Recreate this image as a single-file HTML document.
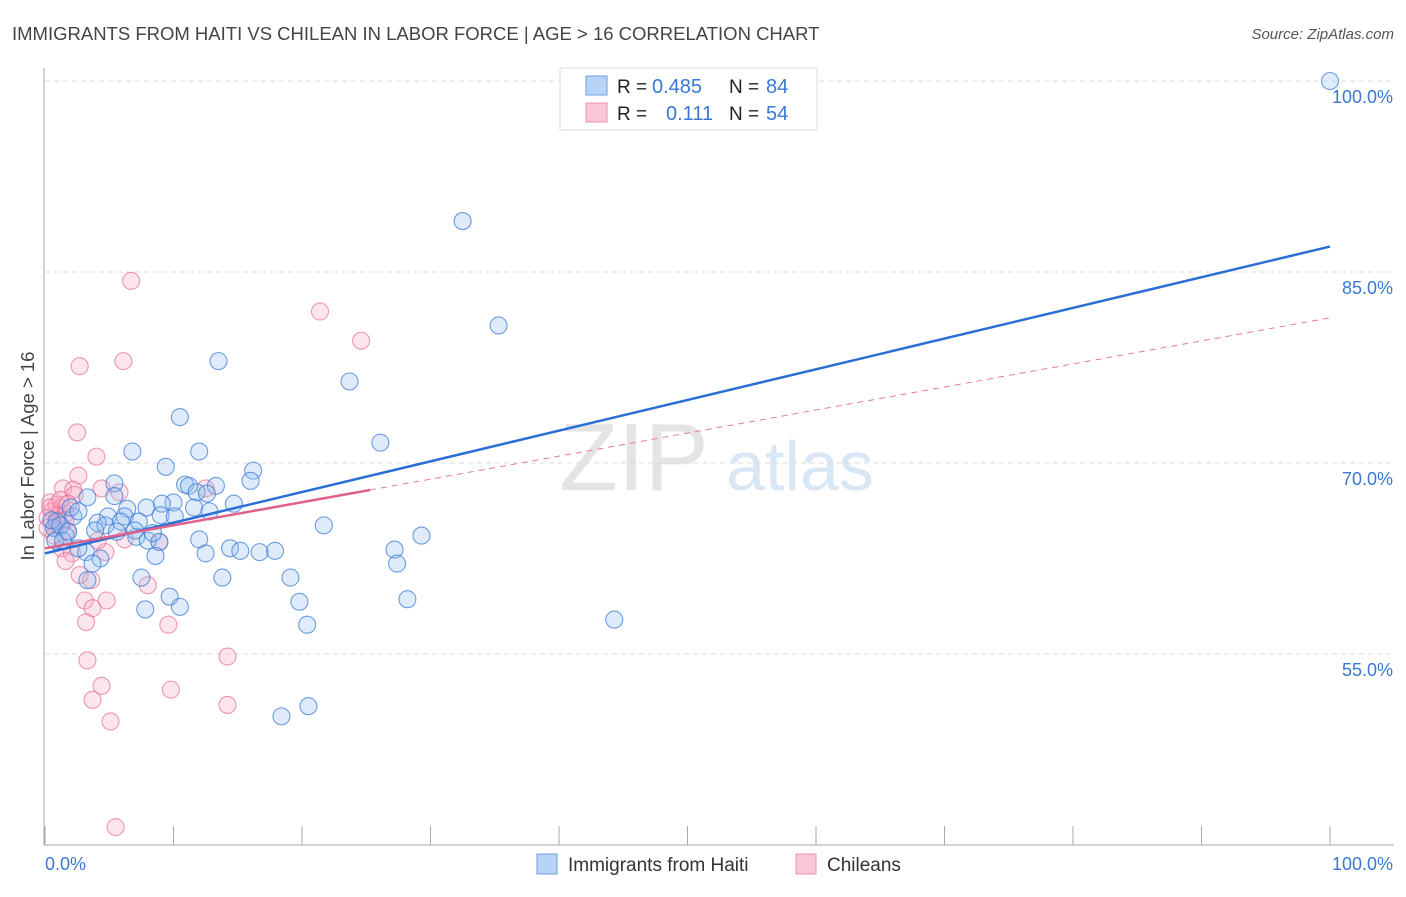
<!DOCTYPE html>
<html><head><meta charset="utf-8"><style>
body{margin:0;background:#fff;font-family:"Liberation Sans",sans-serif;}
svg text{font-family:"Liberation Sans",sans-serif;}
</style></head><body>
<svg id="chart" width="1406" height="892" viewBox="0 0 1406 892" xmlns="http://www.w3.org/2000/svg">
<text x="12" y="40" font-size="18.5" fill="#444">IMMIGRANTS FROM HAITI VS CHILEAN IN LABOR FORCE | AGE &gt; 16 CORRELATION CHART</text>
<text x="1394" y="39" font-size="15" fill="#555" text-anchor="end" font-style="italic">Source: ZipAtlas.com</text>
<text transform="translate(34,456) rotate(-90)" font-size="18.5" fill="#444" text-anchor="middle">In Labor Force | Age &gt; 16</text>
<g>
<text x="634" y="490" font-size="96" fill="#e4e4e4" text-anchor="middle" font-family="Liberation Serif">ZIP</text>
<text x="800" y="490" font-size="70" fill="#d8e6f5" text-anchor="middle">atlas</text>
</g>
<g id="grid"></g>
<g id="axes"></g>
<g id="points"></g>
<g id="trends"></g>
<g>
<rect x="560" y="68" width="257" height="62" fill="#fff" stroke="#ddd"/>
<rect x="586" y="76" width="21" height="19" fill="#b8d3f5" stroke="#6a9fe0"/>
<text x="617" y="93" font-size="19" fill="#222">R = </text><text x="652" y="93" font-size="20" fill="#3a78d4">0.485</text>
<text x="729" y="93" font-size="19" fill="#222">N = </text><text x="766" y="93" font-size="20" fill="#3a78d4">84</text>
<rect x="586" y="103" width="21" height="19" fill="#f9c6d5" stroke="#ee8fab"/>
<text x="617" y="120" font-size="19" fill="#222">R = </text><text x="666" y="120" font-size="20" fill="#3a78d4">0.111</text>
<text x="729" y="120" font-size="19" fill="#222">N = </text><text x="766" y="120" font-size="20" fill="#3a78d4">54</text>
</g>
<g>
<rect x="537" y="854" width="20" height="20" fill="#b8d3f5" stroke="#6a9fe0"/>
<text x="568" y="871" font-size="19" fill="#333">Immigrants from Haiti</text>
<rect x="796" y="854" width="20" height="20" fill="#f9c6d5" stroke="#ee8fab"/>
<text x="827" y="871" font-size="19" fill="#333">Chileans</text>
</g>
</svg>
<script>
const blueX=[100,32.5,35.3,13.5,23.7,10.5,26.1,6.8,12.0,9.4,16.2,16.0,5.4,13.3,10.9,11.2,11.8,12.6,3.3,5.4,7.9,10.0,9.1,11.6,14.7,12.8,6.4,4.9,2.2,0.9,4.1,6.2,5.9,7.3,9.0,10.1,21.7,4.7,0.7,3.9,5.6,1.6,7.1,0.8,8.0,12.0,8.9,14.4,15.2,16.7,17.9,12.5,8.6,27.2,29.3,27.4,4.3,3.2,3.7,7.5,13.8,19.1,3.3,9.7,19.8,28.2,10.5,7.8,20.4,44.3,18.4,20.5,1.4,2.6,0.5,1.2,2.0,2.6,7.0,8.4,1.8];
const blueY=[100,89.0,80.8,78.0,76.4,73.6,71.6,70.9,70.9,69.7,69.4,68.6,68.4,68.2,68.3,68.2,67.7,67.6,67.3,67.4,66.5,66.9,66.8,66.5,66.8,66.2,66.4,65.8,65.8,65.4,65.3,65.8,65.4,65.4,65.9,65.8,65.1,65.1,64.9,64.7,64.6,64.3,64.2,63.9,63.9,64.0,63.8,63.3,63.1,63.0,63.1,62.9,62.7,63.2,64.3,62.1,62.5,63.0,62.1,61.0,61.0,61.0,60.8,59.5,59.1,59.3,58.7,58.5,57.3,57.7,50.1,50.9,63.9,63.3,65.5,65.1,66.5,66.2,64.7,64.5,64.6];
const pinkX=[6.7,21.4,24.6,2.7,6.1,2.5,4.0,2.6,1.4,2.2,4.4,5.8,12.5,0.4,0.9,1.3,0.5,1.0,0.2,1.6,2.3,0.8,1.7,1.3,2.1,4.7,1.6,2.7,3.6,4.1,6.2,8.9,8.0,4.8,3.1,3.7,3.2,9.6,3.3,14.2,4.4,9.8,3.7,14.2,5.1,5.5,0.7,1.0,1.6,0.4,1.2,0.2,1.8];
const pinkY=[84.3,81.9,79.6,77.6,78.0,72.4,70.5,69.0,68.0,67.9,68.0,67.7,68.0,66.9,66.7,66.5,66.2,65.9,65.7,66.0,67.5,65.1,64.7,63.3,62.9,63.0,62.3,61.2,60.8,63.9,64.0,63.8,60.4,59.2,59.2,58.6,57.5,57.3,54.5,54.8,52.5,52.2,51.4,51.0,49.7,41.4,64.3,65.5,65.5,66.5,67.1,64.9,66.8];
const blueTrend=[62.9,87.0];
const pinkTrend=[63.3,81.4];
const pinkSolidEnd=25.3;
const yTicks=[100,85,70,55];
const yTickLabels=["100.0%","85.0%","70.0%","55.0%"];
const xTicks=[0,10,20,30,40,50,60,70,80,90,100];

const NS="http://www.w3.org/2000/svg";
const sx=v=>45+v*12.85;
const sy=v=>81+(100-v)*12.733;
function mk(tag,attrs,parent){const e=document.createElementNS(NS,tag);for(const k in attrs)e.setAttribute(k,attrs[k]);parent.appendChild(e);return e;}
const grid=document.getElementById('grid'),axes=document.getElementById('axes'),pts=document.getElementById('points'),tr=document.getElementById('trends');
yTicks.forEach((t,i)=>{
 const l=mk('line',{x1:45,x2:1394,y1:sy(t),y2:sy(t),stroke:'#ddd','stroke-dasharray':'5,4'},grid);
 
 
 const tx=mk('text',{x:1393,y:sy(t)+22,'font-size':18,fill:'#3a78d4','text-anchor':'end'},axes);
 tx.textContent=yTickLabels[i];
 
 
});
const ya=mk('line',{x1:44,x2:44,y1:68,y2:845,stroke:'#aaa'},axes);


const xa=mk('line',{x1:44,x2:1394,y1:845,y2:845,stroke:'#aaa'},axes);


xTicks.forEach(t=>{
 const l=mk('line',{x1:sx(t),x2:sx(t),y1:826,y2:845,stroke:'#aaa'},axes);
 
 
});
const xl0=mk('text',{x:45,y:870,'font-size':18,fill:'#3a78d4'},axes);xl0.textContent='0.0%';


const xl1=mk('text',{x:1393,y:870,'font-size':18,fill:'#3a78d4','text-anchor':'end'},axes);xl1.textContent='100.0%';


pinkX.forEach((x,i)=>{
 const c=mk('circle',{cx:sx(x),cy:sy(pinkY[i]),r:8.5,fill:'rgba(247,170,195,0.3)',stroke:'rgba(232,110,150,0.7)','stroke-width':1.1},pts);
 
 
});
blueX.forEach((x,i)=>{
 const c=mk('circle',{cx:sx(x),cy:sy(blueY[i]),r:8.5,fill:'rgba(150,190,240,0.3)',stroke:'rgba(60,125,215,0.75)','stroke-width':1.1},pts);
 
 
});
const pyAt=x=>pinkTrend[0]+(pinkTrend[1]-pinkTrend[0])*x/100;
const pd=mk('line',{x1:sx(pinkSolidEnd),y1:sy(pyAt(pinkSolidEnd)),x2:sx(100),y2:sy(pinkTrend[1]),stroke:'#e87a9b','stroke-width':1,'stroke-dasharray':'6,5'},tr);


const bl=mk('line',{x1:sx(0),y1:sy(blueTrend[0]),x2:sx(100),y2:sy(blueTrend[1]),stroke:'#2a6fd6','stroke-width':2.5},tr);


const ps=mk('line',{x1:sx(0),y1:sy(pinkTrend[0]),x2:sx(pinkSolidEnd),y2:sy(pyAt(pinkSolidEnd)),stroke:'#e0608a','stroke-width':2.5},tr);


</script>
</body></html>
